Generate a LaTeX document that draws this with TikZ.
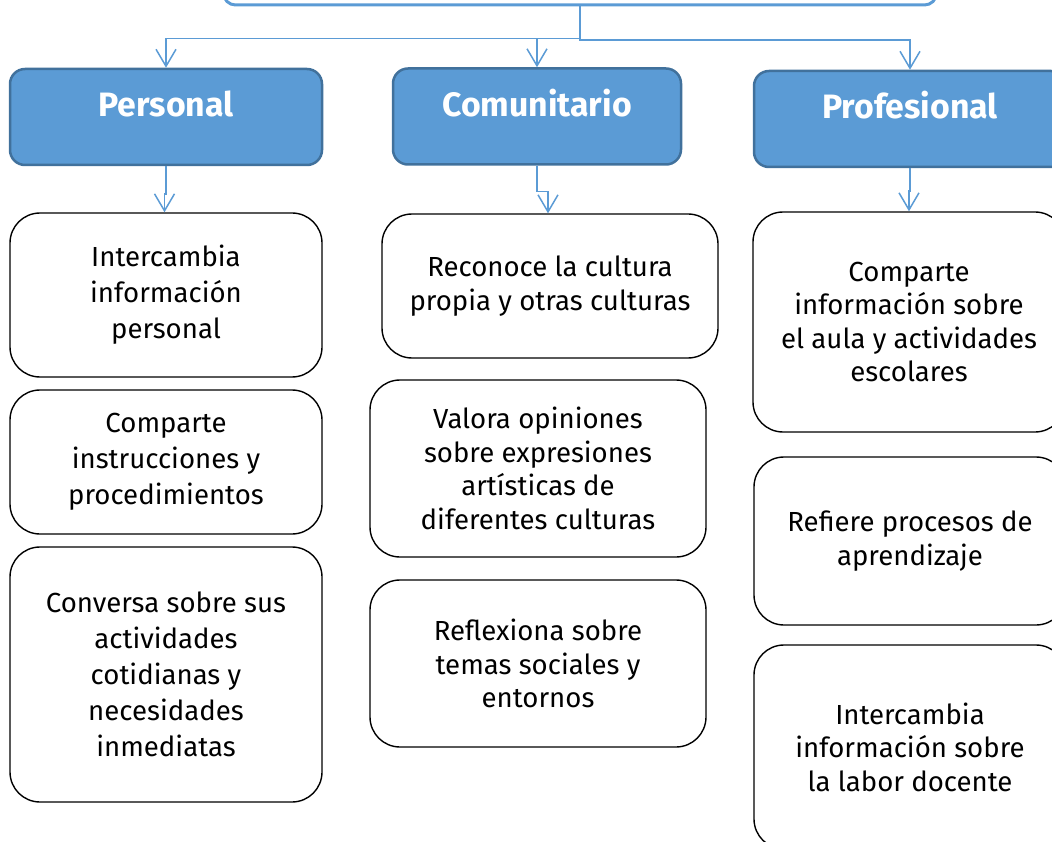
\documentclass[tikz,border=0pt]{standalone}
\usepackage{fontspec}
\setmainfont{Fira Sans}
\usetikzlibrary{arrows.meta,positioning}
\definecolor{hdrfill}{HTML}{5B9BD5}
\definecolor{hdrline}{HTML}{41719C}

\begin{document}
\begin{tikzpicture}[x=1pt,y=-1pt,
	link/.style={draw=hdrfill,line width=1.5pt,-{Straight Barb[length=17pt,width=20pt,line width=1.5pt]}},
	head node/.style={draw=hdrline,fill=hdrfill,line width=2.5pt,rounded corners=15pt,text=white,inner sep=0pt,
		font=\fontsize{33.8}{40}\selectfont\bfseries,minimum height=96pt,text height=23pt,text depth=23pt},
	leaf node/.style={draw=black,line width=1.4pt,rounded corners=30pt,align=center,fill=white,inner sep=0pt},
	wide lines/.style={font=\fontsize{27.6}{36}\selectfont},
	tight lines/.style={font=\fontsize{27.6}{33.5}\selectfont}]
	
	\clip (0,0) rectangle (1052,842);
	
	\node[draw=hdrfill,line width=3pt,rounded corners=12pt,minimum width=713pt,minimum height=80pt] (T) at (580,-35) {};
	
	\node[head node,minimum width=312pt] (P) at (166,117) {Personal};
	\node[head node,minimum width=288pt] (C) at (537,116.5) {Comunitario};
	\node[head node,minimum width=312pt] (F) at (910,119) {Profesional};
	
	% Personal
	\node[leaf node,wide lines,minimum width=312pt,minimum height=164pt] (P1) at (166,295) {Intercambia\\información\\personal};
	\node[leaf node,wide lines,minimum width=312pt,minimum height=144pt] (P2) at (166,462) {Comparte\\instrucciones y\\procedimientos};
	\node[leaf node,wide lines,minimum width=312pt,minimum height=255pt] (P3) at (166,674.5) {Conversa sobre sus\\actividades\\cotidianas y\\necesidades\\inmediatas};
	
	% Comunitario
	\node[leaf node,tight lines,minimum width=336pt,minimum height=144pt] (C1) at (550,286) {Reconoce la cultura\\propia y otras culturas};
	\node[leaf node,tight lines,minimum width=336pt,minimum height=177pt] (C2) at (538,468.5) {Valora opiniones\\sobre expresiones\\artísticas de\\diferentes culturas};
	\node[leaf node,tight lines,minimum width=336pt,minimum height=167pt] (C3) at (538,663.5) {Reflexiona sobre\\temas sociales y\\entornos};
	
	% Profesional
	\node[leaf node,tight lines,minimum width=312pt,minimum height=220pt] (F1) at (909,322) {Comparte\\información sobre\\el aula y actividades\\escolares};
	\node[leaf node,tight lines,minimum width=312pt,minimum height=168pt] (F2) at (910,541) {Refiere procesos de\\aprendizaje};
	\node[leaf node,tight lines,minimum width=312pt,minimum height=204pt] (F3) at (910,747) {Intercambia\\información sobre\\la labor docente};
	
	\draw[link] (T.south) -- ++(0,32) -| (P.north);
	\draw[link] (T.south) -- ++(0,32) -| (C.north);
	\draw[link] (T.south) -- ++(0,33.5) -| (F.north);
	
	\draw[link] (P.south) -- ++(0,28) -| ([xshift=-1.5pt]P1.north);
	\draw[link] (C.south) -- ++(0,26) -| ([xshift=-2pt]C1.north);
	\draw[link] (F.south) -- ++(0,23) -| (F1.north);
	
\end{tikzpicture}
\end{document}
